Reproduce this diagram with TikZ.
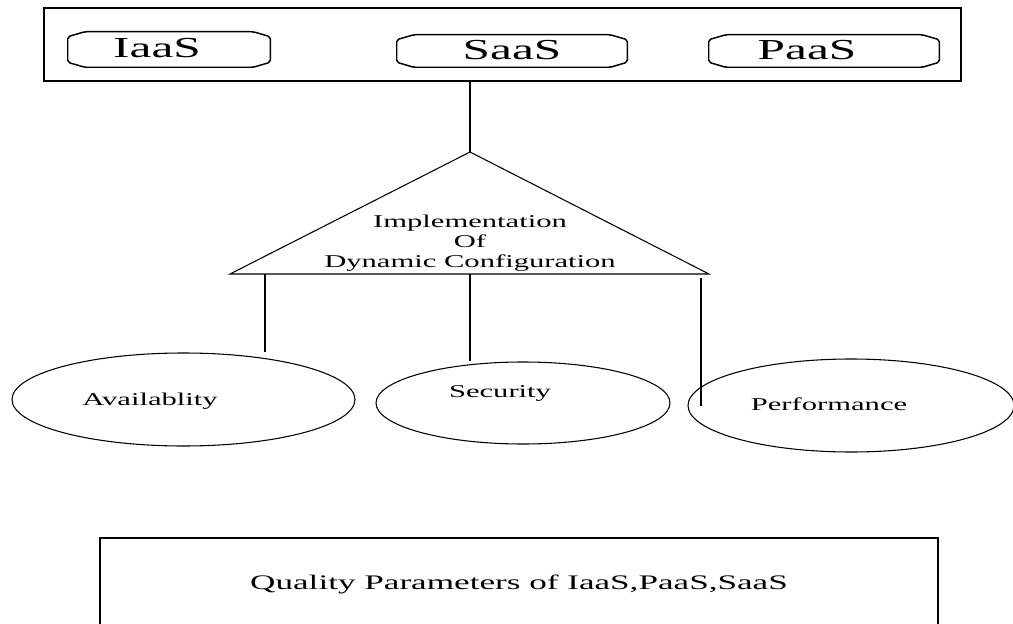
\documentclass[tikz,border=0pt]{standalone}
\usepackage{fontspec}
\setmainfont{Liberation Serif}[FakeStretch=1.7]
\usetikzlibrary{shapes.geometric}
\newcommand{\pxu}{0.75pt}

\begin{document}
\begin{tikzpicture}[x=0.75pt,y=-0.75pt,
  svc/.style={rectangle, inner sep=0pt},
  big/.style={font=\fontsize{21.75}{26}\selectfont},
  small/.style={font=\fontsize{13.5}{15}\selectfont},
  param/.style={draw, ellipse, line width=0.8pt, inner sep=0pt}]
\useasboundingbox (0,0) rectangle (1013,624);
\clip (0,0) rectangle (1013,624);

% service models
\node (cloud) at (502.5,44.5) [draw, line width=1.5pt, minimum width=917*\pxu, minimum height=73*\pxu] {};
\node (iaas) at (169,49.5) [svc, minimum width=202*\pxu, minimum height=35*\pxu] {};
\node (saas) at (512,51) [svc, minimum width=230*\pxu, minimum height=32*\pxu] {};
\node (paas) at (824,51) [svc, minimum width=230*\pxu, minimum height=32*\pxu] {};
\foreach \b in {iaas,saas,paas}
  \draw[line width=1.1pt, rounded corners=1.5pt]
    ([xshift=17*\pxu]\b.north west) -- ([xshift=-17*\pxu]\b.north east)
    -- ([yshift=-5*\pxu]\b.north east) -- ([yshift=5*\pxu]\b.south east)
    -- ([xshift=-17*\pxu]\b.south east) -- ([xshift=17*\pxu]\b.south west)
    -- ([yshift=5*\pxu]\b.south west) -- ([yshift=-5*\pxu]\b.north west) -- cycle;
\node (iaastxt) at (157,48) [big] {IaaS};
\node (saastxt) at (512,50) [big] {SaaS};
\node (paastxt) at (807,50) [big] {PaaS};

% dynamic configuration
\coordinate (apex) at (470,152);
\coordinate (bl) at (230,274);
\coordinate (br) at (709,274);
\draw[line width=0.8pt] (apex) -- (bl) -- (br) -- cycle;
\node (impl) at (470,243) [small, align=center] {Implementation\\Of\\Dynamic Configuration};
\draw[line width=1.3pt] (apex |- cloud.south) to (apex);

% quality parameters
\node (avail) at (183.5,399.5) [param, minimum width=343*\pxu, minimum height=93*\pxu] {};
\node (secur) at (523,403) [param, minimum width=294*\pxu, minimum height=82*\pxu] {};
\node (perf) at (851,405.5) [param, minimum width=326*\pxu, minimum height=93*\pxu] {};
\node (availtxt) at (150,401) [small] {Availablity};
\node (securtxt) at (500,393) [small] {Security};
\node (perftxt) at (829,404) [small] {Performance};

\coordinate (s1) at (265,274);
\coordinate (e1) at (265,352);
\coordinate (s2) at (470,274);
\coordinate (s3) at (701,278);
\draw[line width=1.3pt]
(s1) to (e1)
(s2) to (s2 |- secur.north)
(s3) to (s3 |- perf.west);

% bottom box
\node (qual) at (519,584) [draw, line width=1.5pt, minimum width=838*\pxu, minimum height=92*\pxu,
  font=\fontsize{15.5}{18}\selectfont] {Quality Parameters of IaaS,PaaS,SaaS};
\end{tikzpicture}
\end{document}
